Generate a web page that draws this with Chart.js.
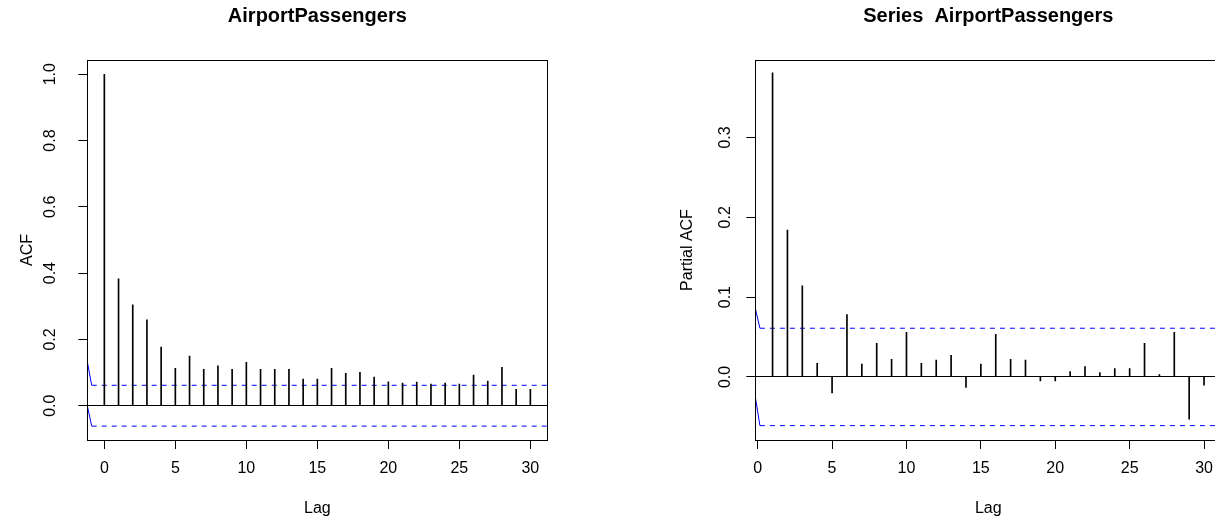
<!DOCTYPE html>
<html>
<head>
<meta charset="utf-8">
<script src="https://cdn.jsdelivr.net/npm/chart.js@4/dist/chart.umd.min.js"></script>
<style>
  html, body { margin: 0; padding: 0; overflow: hidden; background: #fff; }
  #wrap { position: relative; width: 1215px; height: 522px; overflow: hidden; }
  .panel { position: absolute; top: 0; }
</style>
</head>
<body>
<div id="wrap">
  <div class="panel" style="left:0px"><canvas id="acfChart" width="600" height="522"></canvas></div>
  <div class="panel" style="left:600px"><canvas id="pacfChart" width="630" height="522"></canvas></div>
</div>
<script>
// ACF data (lags 0..30)
const acfLags = [0, 1, 2, 3, 4, 5, 6, 7, 8, 9, 10, 11, 12, 13, 14, 15, 16, 17, 18, 19, 20, 21, 22, 23, 24, 25, 26, 27, 28, 29, 30];
const acfValues = [1.0, 0.383, 0.304, 0.259, 0.177, 0.113, 0.150, 0.110, 0.120, 0.110, 0.131, 0.110, 0.110, 0.110, 0.080,
  0.080, 0.113, 0.098, 0.101, 0.086, 0.072, 0.068, 0.071, 0.065, 0.068, 0.065, 0.092, 0.074, 0.116, 0.049, 0.049];
const acfCi = 0.0616;
const acfCiLeadX = [-1.2, -0.89];
const acfCiLeadUpper = [0.133, 0.0616];
const acfCiLeadLower = [0.0, -0.0616];
const acfXTicks = [0, 5, 10, 15, 20, 25, 30];
const acfYTicks = [0, 0.2, 0.4, 0.6, 0.8, 1.0];
const acfYLabels = ['0.0', '0.2', '0.4', '0.6', '0.8', '1.0'];

// PACF data (lags 1..30)
const pacfLags = [1, 2, 3, 4, 5, 6, 7, 8, 9, 10, 11, 12, 13, 14, 15, 16, 17, 18, 19, 20, 21, 22, 23, 24, 25, 26, 27, 28, 29, 30];
const pacfValues = [0.381, 0.184, 0.114, 0.017, -0.020, 0.078, 0.016, 0.042, 0.022, 0.056, 0.017, 0.021, 0.027, -0.013, 0.016,
  0.0535, 0.022, 0.021, -0.005, -0.005, 0.0067, 0.013, 0.0054, 0.0104, 0.0104, 0.042, 0.003, 0.056, -0.053, -0.0104];
const pacfCi = 0.061;
const pacfCiLeadX = [-0.16, 0.15];
const pacfCiLeadUpper = [0.086, 0.061];
const pacfCiLeadLower = [-0.025, -0.061];
const pacfXTicks = [0, 5, 10, 15, 20, 25, 30];
const pacfYTicks = [0, 0.1, 0.2, 0.3];
const pacfYLabels = ['0.0', '0.1', '0.2', '0.3'];

Chart.defaults.font.family = '"Liberation Sans", Arial, Helvetica, sans-serif';
Chart.defaults.color = '#000';

// box around the plot region, like R's box()
const boxPlugin = {
  id: 'box',
  afterDraw(chart) {
    const a = chart.chartArea;
    const ctx = chart.ctx;
    ctx.save();
    ctx.strokeStyle = '#000';
    ctx.lineWidth = 1;
    ctx.strokeRect(Math.round(a.left) + 0.5, Math.round(a.top) + 0.5,
      Math.round(a.right - a.left), Math.round(a.bottom - a.top));
    ctx.restore();
  }
};

function pts(xs, ys) {
  return xs.map((x, i) => ({ x: x, y: ys[i] }));
}

function ciLine(data, dashed) {
  return {
    type: 'line',
    data: data,
    borderColor: '#0000FF',
    borderWidth: 1,
    borderDash: dashed ? [5, 5] : [],
    pointRadius: 0,
    tension: 0,
    fill: false
  };
}

function makeChart(id, cfg) {
  return new Chart(document.getElementById(id), {
    type: 'bar',
    data: {
      datasets: [
        {
          type: 'bar',
          data: pts(cfg.lags, cfg.values),
          backgroundColor: '#000',
          barThickness: 1
        },
        ciLine(pts(cfg.leadX, cfg.leadUpper), false),
        ciLine(pts(cfg.leadX, cfg.leadLower), false),
        ciLine([{ x: cfg.leadX[1], y: cfg.ci }, { x: cfg.xMax, y: cfg.ci }], true),
        ciLine([{ x: cfg.leadX[1], y: -cfg.ci }, { x: cfg.xMax, y: -cfg.ci }], true)
      ]
    },
    options: {
      responsive: false,
      animation: false,
      devicePixelRatio: 1,
      layout: { padding: { left: 0, right: cfg.padRight, top: 0, bottom: 0 } },
      plugins: {
        legend: { display: false },
        tooltip: { enabled: false },
        title: {
          display: true,
          text: cfg.title,
          fullSize: false,
          font: { size: 20, weight: 'bold' },
          padding: { top: 4, bottom: 32 }
        }
      },
      scales: {
        x: {
          type: 'linear',
          min: cfg.xMin,
          max: cfg.xMax,
          offset: false,
          afterFit: s => { s.height = 82; },
          afterBuildTicks: s => { s.ticks = cfg.xTicks.map(v => ({ value: v })); },
          border: { display: false },
          grid: { offset: false, drawOnChartArea: false, color: '#000', tickLength: 9 },
          ticks: { font: { size: 16 }, padding: 10.4, autoSkip: false, maxRotation: 0, callback: v => String(v) },
          title: { display: true, text: 'Lag', font: { size: 16 }, padding: { top: 0, bottom: 3.4 } }
        },
        y: {
          type: 'linear',
          min: cfg.yMin,
          max: cfg.yMax,
          afterFit: s => { s.width = cfg.yWidth; },
          afterBuildTicks: s => { s.ticks = cfg.yTicks.map(v => ({ value: v })); },
          border: { display: false },
          grid: {
            drawOnChartArea: true,
            color: c => (c.tick && c.tick.value === 0 ? '#000' : 'rgba(0,0,0,0)'),
            tickColor: '#000',
            tickLength: 9
          },
          ticks: {
            font: { size: 16 },
            minRotation: 90,
            maxRotation: 90,
            crossAlign: 'center',
            padding: cfg.yPad,
            autoSkip: false,
            callback: (v, i) => cfg.yLabels[i]
          },
          title: { display: true, text: cfg.yTitle, font: { size: 16 }, padding: { top: cfg.yTitlePad, bottom: 0 } }
        }
      }
    },
    plugins: [boxPlugin]
  });
}

// ACF panel
makeChart('acfChart', {
  title: 'AirportPassengers',
  yTitle: 'ACF',
  lags: acfLags, values: acfValues, ci: acfCi,
  leadX: acfCiLeadX, leadUpper: acfCiLeadUpper, leadLower: acfCiLeadLower,
  xTicks: acfXTicks, yTicks: acfYTicks, yLabels: acfYLabels,
  xMin: -1.2, xMax: 31.2, yMin: -0.1035, yMax: 1.043,
  yWidth: 87.3, padRight: 52.6, yPad: 17, yTitlePad: 17.7
});

// PACF panel (runs past the right edge of the page, as in the original)
makeChart('pacfChart', {
  title: 'Series  AirportPassengers',
  yTitle: 'Partial ACF',
  lags: pacfLags, values: pacfValues, ci: pacfCi,
  leadX: pacfCiLeadX, leadUpper: pacfCiLeadUpper, leadLower: pacfCiLeadLower,
  xTicks: pacfXTicks, yTicks: pacfYTicks, yLabels: pacfYLabels,
  xMin: -0.16, xMax: 31.16, yMin: -0.079, yMax: 0.397,
  yWidth: 155.3, padRight: 8.7, yPad: 9.4, yTitlePad: 77.7
});
</script>
</body>
</html>
